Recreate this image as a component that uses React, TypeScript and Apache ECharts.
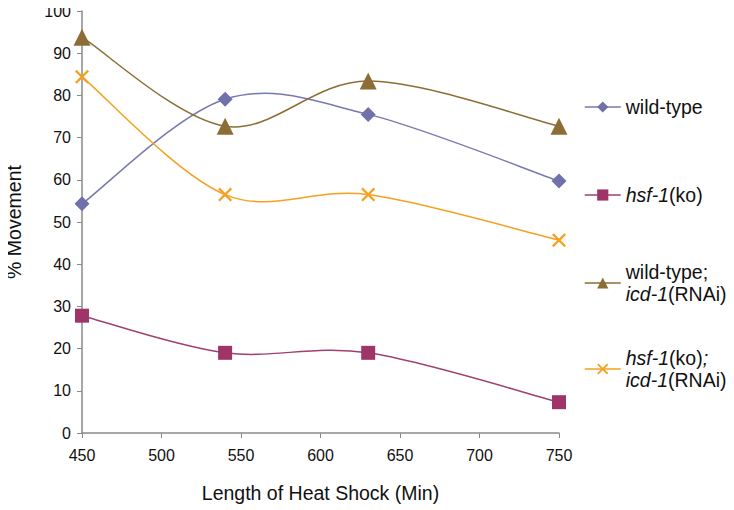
import React, { useEffect, useRef } from "react";
import * as echarts from "echarts";

const xValues = [450, 540, 630, 750];
const wildType = [54.3, 79.1, 75.5, 59.7];
const hsf1 = [27.8, 19.0, 19.0, 7.3];
const wildTypeIcd = [93.8, 72.7, 83.4, 72.7];
const hsf1Icd = [84.4, 56.5, 56.5, 45.7];

const seriesNames = ["wild-type", "hsf-1(ko)", "wild-type; icd-1(RNAi)", "hsf-1(ko); icd-1(RNAi)"];
const legendLabels = [
  "wild-type",
  "{i|hsf-1}(ko)",
  "wild-type;\n{i|icd-1}(RNAi)",
  "{i|hsf-1}(ko){i|;}\n{i|icd-1}(RNAi)",
];
const legendTops = [96, 184, 261, 347];

const FONT = "Liberation Sans, Arial, sans-serif";
const CROSS = "path://M0,1.4L1.4,0L6,4.6L10.6,0L12,1.4L7.4,6L12,10.6L10.6,12L6,7.4L1.4,12L0,10.6L4.6,6Z";

export default function App() {
  const ref = useRef<HTMLDivElement>(null);
  useEffect(() => {
    if (!ref.current) return;
    const chart = echarts.init(ref.current, null, { renderer: "svg" });
    const pairs = (ys: number[]) => xValues.map((x, i) => [x, ys[i]]);
    const datasets = [wildType, hsf1, wildTypeIcd, hsf1Icd];
    const colors = ["#7070aa", "#9e3468", "#8c6d35", "#f5a020"];
    const lineColors = ["#7878b0", "#a0406e", "#8c6d35", "#f5a020"];
    const symbols = ["diamond", "rect", "triangle", CROSS];
    const sizes = [15, 14, 17, 14];
    const rich = {
      i: { fontStyle: "italic", fontSize: 19.5, fontFamily: FONT, color: "#111", lineHeight: 22 },
    };

    const curveSeries = datasets.map((d, si) => ({
      type: "custom",
      silent: true,
      z: 1,
      data: pairs(d).slice(0, d.length - 1),
      clip: false,
      renderItem: (params: any, api: any) => {
        const i = params.dataIndex;
        const n = d.length;
        const pt = (k: number) => api.coord([xValues[Math.max(0, Math.min(n - 1, k))], d[Math.max(0, Math.min(n - 1, k))]]);
        const p0 = pt(i - 1);
        const p1 = pt(i);
        const p2 = pt(i + 1);
        const p3 = pt(i + 2);
        const t = 6;
        return {
          type: "bezierCurve",
          shape: {
            x1: p1[0],
            y1: p1[1],
            x2: p2[0],
            y2: p2[1],
            cpx1: p1[0] + (p2[0] - p0[0]) / t,
            cpy1: p1[1] + (p2[1] - p0[1]) / t,
            cpx2: p2[0] - (p3[0] - p1[0]) / t,
            cpy2: p2[1] - (p3[1] - p1[1]) / t,
          },
          style: { stroke: lineColors[si], lineWidth: 1.5, fill: null },
        };
      },
    }));

    chart.setOption({
      animation: false,
      grid: { left: 82, right: 175, top: 11, bottom: 77, outerBoundsMode: "none", containLabel: false },
      xAxis: {
        type: "value",
        min: 450,
        max: 750,
        interval: 50,
        name: "Length of Heat Shock (Min)",
        nameLocation: "middle",
        nameGap: 50,
        nameTextStyle: { fontSize: 19.5, fontFamily: FONT, color: "#111" },
        axisLine: { lineStyle: { color: "#8a8a8a", width: 1.5 } },
        axisTick: { show: true, length: 5, lineStyle: { color: "#8a8a8a" } },
        axisLabel: { fontSize: 16, fontFamily: FONT, color: "#111", margin: 14 },
        splitLine: { show: false },
      },
      yAxis: {
        type: "value",
        min: 0,
        max: 100,
        interval: 10,
        name: "% Movement",
        nameLocation: "middle",
        nameGap: 58,
        nameTextStyle: { fontSize: 19.5, fontFamily: FONT, color: "#111" },
        axisLine: { show: true, lineStyle: { color: "#8a8a8a", width: 1.5 } },
        axisTick: { show: true, length: 5, lineStyle: { color: "#8a8a8a" } },
        axisLabel: { fontSize: 16, fontFamily: FONT, color: "#111", margin: 11 },
        splitLine: { show: false },
      },
      legend: seriesNames.map((name, i) => ({
        data: [name],
        orient: "vertical",
        left: 584,
        top: legendTops[i],
        padding: 0,
        itemWidth: 36,
        itemHeight: 14,
        formatter: () => legendLabels[i],
        lineStyle: { color: lineColors[i], width: 1.5, opacity: 1 },
        textStyle: { fontSize: 19.5, fontFamily: FONT, color: "#111", lineHeight: 22, rich },
      })),
      series: [
        ...curveSeries,
        ...datasets.map((d, i) => ({
          name: seriesNames[i],
          type: "line",
          z: 3,
          data: pairs(d),
          symbol: symbols[i],
          symbolSize: sizes[i],
          clip: false,
          lineStyle: { color: lineColors[i], width: 1.5, opacity: 0 },
          itemStyle: { color: colors[i] },
        })),
      ],
    });
    return () => chart.dispose();
  }, []);
  return <div ref={ref} style={{ width: 734, height: 510, marginLeft: -8, marginTop: -8 }} />;
}
